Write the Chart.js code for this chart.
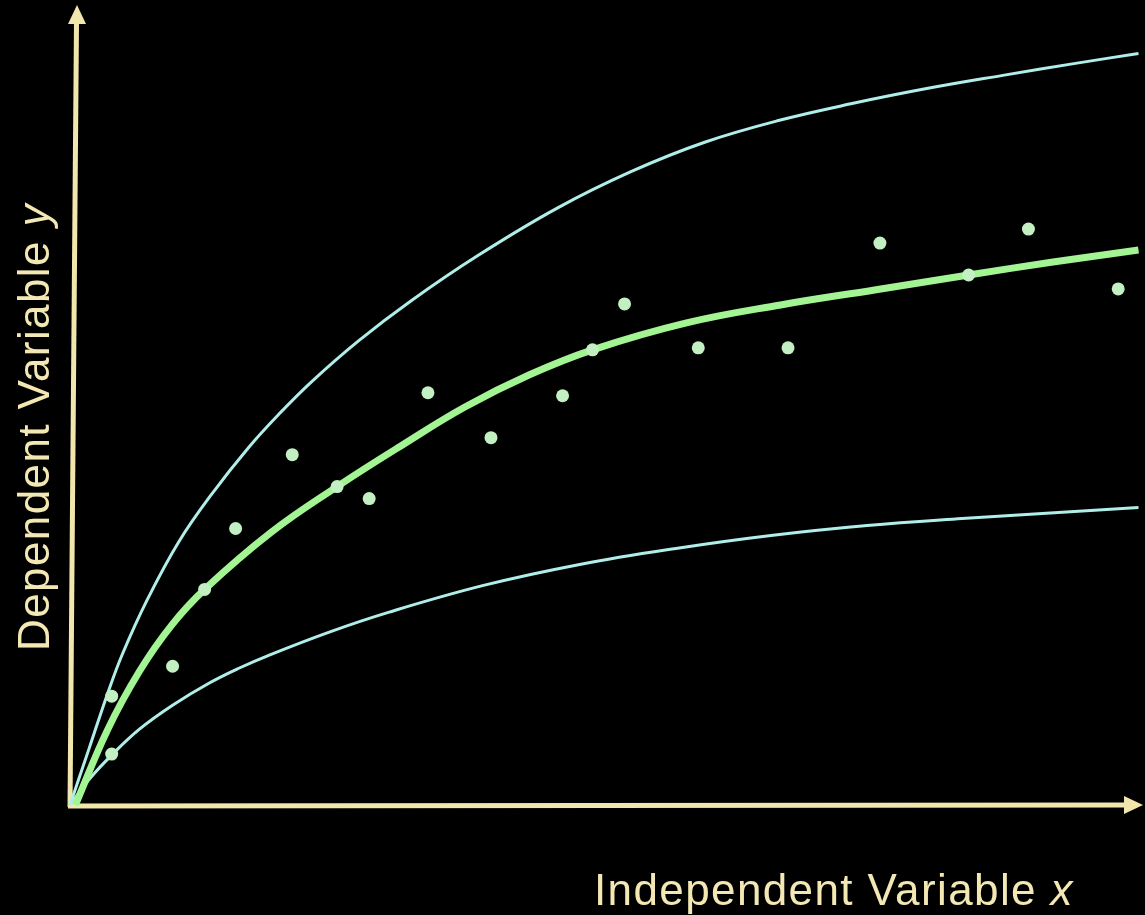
<!DOCTYPE html>
<html>
<head>
<meta charset="utf-8">
<title>Dependent vs Independent Variable</title>
<script src="https://cdn.jsdelivr.net/npm/chart.js@4.4.1/dist/chart.umd.min.js"></script>
<style>
  html, body { margin: 0; padding: 0; background: #000; }
  #wrap { width: 1145px; height: 915px; }
</style>
</head>
<body>
<div id="wrap"><canvas id="chart" width="1145" height="915"></canvas></div>
<script>
// Observed data points
const pointX = [0.39, 0.39, 0.96, 1.26, 1.55, 2.08, 2.50, 2.80, 3.35, 3.94, 4.61, 4.89, 5.19, 5.88, 6.72, 7.58, 8.41, 8.97, 9.81];
const pointY = [0.51, 1.09, 1.39, 2.16, 2.77, 3.51, 3.19, 3.07, 4.13, 3.68, 4.10, 4.56, 5.02, 4.58, 4.58, 5.63, 5.31, 5.77, 5.17];

// Fitted curve (green)
const fitX = [0.05, 0.35, 0.65, 0.95, 1.26, 1.88, 2.50, 3.10, 3.70, 4.30, 4.89, 5.77, 6.65, 7.53, 8.41, 9.20, 10.0];
const fitY = [0.00, 0.75, 1.34, 1.80, 2.16, 2.73, 3.19, 3.60, 3.99, 4.31, 4.56, 4.83, 5.01, 5.16, 5.31, 5.44, 5.56];

// Upper bound curve
const upperX = [0, 0.18, 0.35, 0.49, 0.72, 1.02, 1.33, 1.67, 1.95, 2.26, 2.70, 3.19, 3.81, 4.56, 5.26, 5.94, 6.64, 7.33, 8.03, 8.73, 9.41, 10.0];
const upperY = [0, 0.57, 1.11, 1.51, 2.05, 2.64, 3.12, 3.58, 3.91, 4.24, 4.65, 5.05, 5.50, 5.98, 6.35, 6.64, 6.86, 7.03, 7.18, 7.31, 7.43, 7.53];

// Lower bound curve
const lowerX = [0, 0.19, 0.39, 0.65, 0.96, 1.30, 1.58, 1.86, 2.42, 2.98, 3.87, 4.77, 5.67, 6.56, 7.46, 8.35, 9.25, 10.0];
const lowerY = [0, 0.27, 0.50, 0.76, 1.00, 1.22, 1.37, 1.50, 1.73, 1.93, 2.20, 2.41, 2.57, 2.70, 2.80, 2.87, 2.93, 2.98];

const xTitle = 'Independent Variable ';
const xTitleVar = 'x';
const yTitle = 'Dependent Variable ';
const yTitleVar = 'y';

const toXY = (xs, ys) => xs.map((x, i) => ({ x: x, y: ys[i] }));

const axisColor = '#f1e6ac';
const textColor = '#f3e8b3';

// Axes with arrows and titles, drawn under the curves
const axesPlugin = {
    id: 'axesPlugin',
    beforeDraw(chart) {
        const ctx = chart.ctx;
        ctx.save();
        ctx.fillStyle = '#000';
        ctx.fillRect(0, 0, chart.width, chart.height);
        ctx.restore();
    },
    beforeDatasetsDraw(chart) {
        const ctx = chart.ctx;
        const xs = chart.scales.x, ys = chart.scales.y;
        const ox = xs.getPixelForValue(0), oy = ys.getPixelForValue(0);
        ctx.save();
        ctx.strokeStyle = axisColor;
        ctx.fillStyle = axisColor;
        ctx.lineWidth = 5;
        ctx.lineCap = 'butt';

        // y axis (slightly tilted, as in the source)
        ctx.beginPath();
        ctx.moveTo(ox, oy + 2);
        ctx.lineTo(ox + 6.5, 22);
        ctx.stroke();
        ctx.beginPath();
        ctx.moveTo(ox + 7, 5);
        ctx.lineTo(ox + 16, 24);
        ctx.lineTo(ox - 2, 24);
        ctx.closePath();
        ctx.fill();

        // x axis
        ctx.beginPath();
        ctx.moveTo(ox - 2, oy + 1);
        ctx.lineTo(1128, oy);
        ctx.stroke();
        ctx.beginPath();
        ctx.moveTo(1143, oy);
        ctx.lineTo(1124, oy - 9);
        ctx.lineTo(1124, oy + 9);
        ctx.closePath();
        ctx.fill();

        // titles
        ctx.fillStyle = textColor;
        ctx.textBaseline = 'alphabetic';
        ctx.letterSpacing = '1.4px';
        const normal = '44px "Liberation Sans", Arial, sans-serif';
        const italic = 'italic 44px "Liberation Sans", Arial, sans-serif';

        ctx.font = italic;
        const wx = ctx.measureText(xTitleVar).width;
        ctx.font = normal;
        const wt = ctx.measureText(xTitle).width;
        const right = 1074;
        ctx.textAlign = 'left';
        ctx.fillText(xTitle, right - wx - wt, 905);
        ctx.font = italic;
        ctx.fillText(xTitleVar, right - wx, 905);

        ctx.save();
        ctx.translate(49, 651);
        ctx.rotate(-Math.PI / 2);
        ctx.font = normal;
        ctx.fillText(yTitle, 0, 0);
        const wy = ctx.measureText(yTitle).width;
        ctx.font = italic;
        ctx.fillText(yTitleVar, wy, 0);
        ctx.restore();

        ctx.restore();
    }
};

new Chart(document.getElementById('chart'), {
    type: 'scatter',
    data: {
        datasets: [
            {
                label: 'Data',
                data: toXY(pointX, pointY),
                backgroundColor: '#c2f0c2',
                borderWidth: 0,
                pointRadius: 6.5,
                order: 0
            },
            {
                label: 'Fit',
                data: toXY(fitX, fitY),
                showLine: true,
                borderColor: '#a3f593',
                borderWidth: 7,
                pointRadius: 0,
                tension: 0.4,
                order: 1
            },
            {
                label: 'Upper',
                data: toXY(upperX, upperY),
                showLine: true,
                borderColor: '#b0eeea',
                borderWidth: 3,
                pointRadius: 0,
                tension: 0.4,
                order: 2
            },
            {
                label: 'Lower',
                data: toXY(lowerX, lowerY),
                showLine: true,
                borderColor: '#b0eeea',
                borderWidth: 3,
                pointRadius: 0,
                tension: 0.4,
                order: 3
            }
        ]
    },
    options: {
        responsive: false,
        animation: false,
        devicePixelRatio: 1,
        clip: false,
        layout: { padding: { left: 70, right: 0, top: 5, bottom: 110 } },
        plugins: {
            legend: { display: false },
            tooltip: { enabled: false }
        },
        scales: {
            x: { type: 'linear', min: 0, max: 10, display: false },
            y: { min: 0, max: 8, display: false }
        }
    },
    plugins: [axesPlugin]
});
</script>
</body>
</html>
